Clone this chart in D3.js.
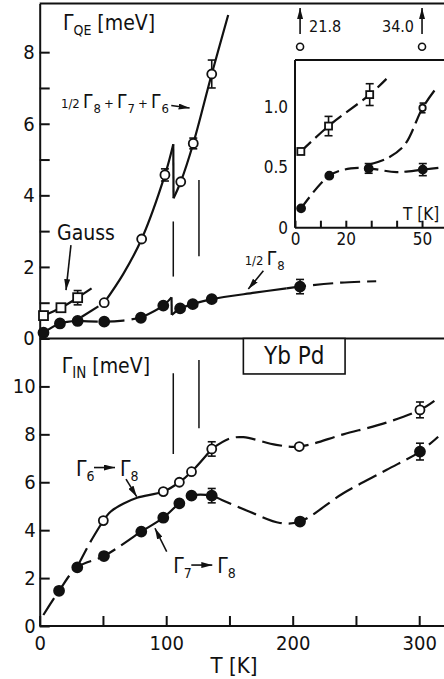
<!DOCTYPE html>
<html>
<head>
<meta charset="utf-8">
<script src="https://cdn.jsdelivr.net/npm/d3@7"></script>
<style>
  html, body { margin: 0; padding: 0; background: #fff; }
  svg { display: block; }
  text { font-family: "DejaVu Sans Condensed", "DejaVu Sans", sans-serif; font-stretch: condensed; fill: #111; }
</style>
</head>
<body>
<script>
// ---------- data: YbPd linewidths vs temperature ----------
// Quasielastic width Γ_QE [meV]; entries are [T (K), value, error]
const qeHalfG8 = [[3,0.16],[16,0.42],[30,0.49],[51,0.47],[80,0.58],[97.7,0.92],[111,0.84],[121,0.96],[136,1.10],[205.8,1.45,0.2]];
const qeSum    = [[51,1.0],[80.6,2.78],[99,4.57,0.17],[111.5,4.38],[121.4,5.45,0.15],[136,7.39,0.39]];
const qeGauss  = [[3,0.64],[16.8,0.86],[30,1.14,0.2]];

// Inelastic widths Γ_IN [meV]
const inG6G8 = [[50.3,4.40],[97.7,5.61],[110.4,6.0],[120,6.44],[136,7.39,0.3],[205.2,7.49],[300.6,9.02,0.33]];
const inG7G8 = [[15.3,1.47],[29.7,2.45],[50.8,2.92],[80.3,3.94],[97.7,4.52],[110.4,5.12],[120,5.44],[136,5.44,0.3],[205.8,4.36],[300.6,7.28,0.35]];

// Low-temperature detail (inset)
const insetGauss  = [[2.3,0.63],[13.2,0.84,0.08],[29.4,1.10,0.09]];
const insetHalfG8 = [[2.4,0.16],[13.5,0.43],[29,0.49,0.04],[50.3,0.48,0.05]];
const insetSum    = [[50.2,0.99,0.04]];
const insetOffScale = [[2,"21.8"],[50,"34.0"]];

// Guide-to-the-eye curves, split into pieces: [knots, dashed?]
const qeHalfG8Guide = [
  [[[3,0.16],[16,0.42],[30,0.49]], false],
  [[[30,0.49],[51,0.47],[66,0.5],[80,0.58]], true],
  [[[80,0.58],[97.7,0.92],[104.2,1.15]], false],
  [[[104.2,1.15],[104.4,0.66]], false],
  [[[104.4,0.66],[111,0.84],[121,0.96],[136,1.10],[170,1.28],[195,1.40]], false],
  [[[195,1.40],[205.8,1.45],[238,1.56],[266,1.6]], true]
];
const qeSumGuide = [
  [[[33,0.6],[51,1.0]], true],
  [[[51,1.0],[66,1.8],[80.6,2.78],[99,4.57],[105.6,5.43]], false],
  [[[105.6,5.43],[105.8,3.92]], false],
  [[[105.8,3.92],[111.5,4.38],[121.4,5.45],[136,7.39],[149,9.04]], false]
];
const qeGaussGuide = [
  [[[3,0.64],[16.8,0.86],[30,1.14]], false],
  [[[30,1.14],[41,1.4]], true]
];
const inG6G8Guide = [
  [[[30,2.5],[40,3.5],[50.3,4.4]], true],
  [[[50.3,4.4],[56,4.77],[66,5.1],[77,5.35],[97.7,5.61],[110.4,6.0],[120,6.44],[136,7.39]], false],
  [[[136,7.39],[150,7.82],[161,7.88],[187,7.56],[205.2,7.49],[240,8.0],[274,8.49],[300.6,9.02],[312,9.4]], true]
];
const inG7G8Guide = [
  [[[2.9,0.46],[15.3,1.47],[29.7,2.45],[50.8,2.92],[80.3,3.94],[97.7,4.52],[110.4,5.12],[120,5.44],[136,5.44],[144,5.26],[166,4.77],[190,4.3],[205.8,4.36],[240,5.54],[274,6.51],[300.6,7.28],[315,7.9]], true]
];
const insetGaussGuide  = [[[[2.3,0.63],[13.2,0.84],[29.4,1.10],[36,1.23]], true]];
const insetHalfG8Guide = [[[[2.4,0.16],[13.5,0.43],[22,0.49],[29,0.49],[40,0.46],[50.3,0.48],[59,0.5]], true]];
const insetSumGuide    = [[[[29,0.52],[36,0.57],[43,0.68],[50.2,0.99],[55.1,1.14]], true]];

// Transition markers (temperatures of the discontinuities)
const markerLinesTop = [[105.6,1.73,3.27],[125.9,2.30,4.43]];
const markerLinesBot = [[105.6,7.18,10.55],[125.9,8.25,11.1]];

// Tick values
const xTicks = [0,50,100,150,200,250,300];
const yTopTicks = [0,1,2,3,4,5,6,7,8];
const yBotTicks = [0,2,4,6,8,10];
const insetXTicks = [0,10,20,30,40,50];
const insetYTicks = [0,0.5,1.0];

// ---------- layout ----------
const W = 444, H = 679;
const svg = d3.select("body").append("svg").attr("width", W).attr("height", H);

const x    = d3.scaleLinear().domain([0, 320]).range([39.7, 444.5]);
const yTop = d3.scaleLinear().domain([0, 9.36]).range([338.5, 3.5]);
const yBot = d3.scaleLinear().domain([0, 12]).range([626, 338.5]);
const xIn  = d3.scaleLinear().domain([0, 59]).range([295, 444.9]);
const yIn  = d3.scaleLinear().domain([0, 1.386]).range([227.7, 60]);

const ink = "#111";
const defs = svg.append("defs");
defs.append("marker").attr("id", "ah")
  .attr("viewBox", "0 0 11 6").attr("refX", 11).attr("refY", 3)
  .attr("markerWidth", 11).attr("markerHeight", 6)
  .attr("markerUnits", "userSpaceOnUse").attr("orient", "auto")
  .append("path").attr("d", "M0,0 L11,3 L0,6 Z").attr("fill", ink);

// ---------- frame and axes ----------
const frame = svg.append("g").attr("stroke", ink).attr("stroke-width", 2).attr("fill", "none");
frame.append("line").attr("x1", x(0)).attr("x2", W).attr("y1", yTop(9.36)).attr("y2", yTop(9.36));
frame.append("line").attr("x1", x(0)).attr("x2", W).attr("y1", yTop(0)).attr("y2", yTop(0));

function styleAxis(g, size) {
  g.selectAll("path,line").attr("stroke", ink).attr("stroke-width", 2);
  g.selectAll("text").attr("font-size", size).attr("fill", ink)
    .style("font-family", "\"DejaVu Sans Condensed\", \"DejaVu Sans\", sans-serif");
}

const axTop = svg.append("g").attr("transform", `translate(${x(0)},0)`)
  .call(d3.axisLeft(yTop).tickValues(yTopTicks).tickSize(-10).tickSizeOuter(0).tickPadding(5)
    .tickFormat(d => d % 2 === 0 ? d : ""));
styleAxis(axTop, 20);

const axBot = svg.append("g").attr("transform", `translate(${x(0)},0)`)
  .call(d3.axisLeft(yBot).tickValues(yBotTicks).tickSize(-10).tickSizeOuter(0).tickPadding(4));
styleAxis(axBot, 20);

const axX = svg.append("g").attr("transform", `translate(0,${yBot(0)})`)
  .call(d3.axisBottom(x).tickValues(xTicks).tickSize(-10).tickSizeOuter(0).tickPadding(10)
    .tickFormat(d => d % 100 === 0 ? d : ""));
styleAxis(axX, 20);
axX.select(".domain").attr("d", `M${x(0)},0H${W}`);

// ---------- drawing helpers ----------
function drawGuide(g, pieces, xs, ys, dash) {
  const gen = d3.line().x(d => xs(d[0])).y(d => ys(d[1])).curve(d3.curveCatmullRom.alpha(0.5));
  pieces.forEach(([pts, dashed]) => {
    g.append("path").attr("d", gen(pts)).attr("fill", "none")
      .attr("stroke", ink).attr("stroke-width", 2.2)
      .attr("stroke-dasharray", dashed ? dash : null);
  });
}
function drawErr(g, data, xs, ys, cap) {
  data.filter(d => d[2]).forEach(d => {
    const cx = xs(d[0]), y1 = ys(d[1] - d[2]), y2 = ys(d[1] + d[2]);
    g.append("line").attr("x1", cx).attr("x2", cx).attr("y1", y1).attr("y2", y2);
    g.append("line").attr("x1", cx - cap).attr("x2", cx + cap).attr("y1", y1).attr("y2", y1);
    g.append("line").attr("x1", cx - cap).attr("x2", cx + cap).attr("y1", y2).attr("y2", y2);
  });
  g.attr("stroke", ink).attr("stroke-width", 1.6);
}
function drawCircles(g, data, xs, ys, r, filled) {
  g.selectAll("circle.pt").data(data).join("circle").attr("class", "pt")
    .attr("cx", d => xs(d[0])).attr("cy", d => ys(d[1])).attr("r", r)
    .attr("fill", filled ? ink : "#fff").attr("stroke", ink).attr("stroke-width", 1.8);
}
function drawSquares(g, data, xs, ys, s) {
  g.selectAll("rect.pt").data(data).join("rect").attr("class", "pt")
    .attr("x", d => xs(d[0]) - s / 2).attr("y", d => ys(d[1]) - s / 2)
    .attr("width", s).attr("height", s)
    .attr("fill", "#fff").attr("stroke", ink).attr("stroke-width", 1.8);
}
function arrow(g, x1, y1, x2, y2) {
  g.append("line").attr("x1", x1).attr("y1", y1).attr("x2", x2).attr("y2", y2)
    .attr("stroke", ink).attr("stroke-width", 1.6).attr("marker-end", "url(#ah)");
}
// Γ with subscript followed by optional trailing text
function gammaLabel(g, px, py, parts, size, subSize) {
  const t = g.append("text").attr("x", px).attr("y", py).attr("font-size", size);
  let shifted = false;
  parts.forEach(([txt, sub]) => {
    const s = t.append("tspan").text(txt);
    if (shifted) { s.attr("dy", -5); shifted = false; }
    if (sub) {
      t.append("tspan").attr("font-size", subSize).attr("dy", 5).text(sub);
      shifted = true;
    }
  });
  return t;
}
// a run of separately placed pieces: [text, dx offset, size, baseline shift]
function pieceLabel(g, px, py, pieces) {
  pieces.forEach(([txt, dx, size, dy]) => {
    g.append("text").attr("x", px + dx).attr("y", py + dy).attr("font-size", size).text(txt);
  });
}

const DASH = "20,7";

// ---------- top panel: Γ_QE ----------
const gTop = svg.append("g");
const vl = gTop.append("g").attr("stroke", ink).attr("stroke-width", 1.5);
markerLinesTop.forEach(d => vl.append("line").attr("x1", x(d[0])).attr("x2", x(d[0])).attr("y1", yTop(d[1])).attr("y2", yTop(d[2])));
drawGuide(gTop, qeHalfG8Guide, x, yTop, DASH);
drawGuide(gTop, qeSumGuide, x, yTop, DASH);
drawGuide(gTop, qeGaussGuide, x, yTop, DASH);
drawErr(gTop.append("g"), qeHalfG8, x, yTop, 4);
drawErr(gTop.append("g"), qeSum, x, yTop, 4);
drawErr(gTop.append("g"), qeGauss, x, yTop, 4);
drawSquares(gTop.append("g"), qeGauss, x, yTop, 9);
drawCircles(gTop.append("g"), qeSum, x, yTop, 4.5, false);
drawCircles(gTop.append("g"), qeHalfG8, x, yTop, 5, true);

gammaLabel(gTop, x(18.4), yTop(8.62), [["Γ", "QE"], [" [meV]"]], 21, 14);
pieceLabel(gTop, x(16.8), yTop(6.44), [
  ["1/2", 0, 13, 0], ["Γ", 22, 19, 0], ["8", 32.5, 13, 5],
  ["+", 43, 13, 0], ["Γ", 56, 19, 0], ["7", 66.5, 13, 5],
  ["+", 77, 13, 0], ["Γ", 90, 19, 0], ["6", 100.5, 13, 5]
]);
arrow(gTop, x(104), yTop(6.51), x(118.5), yTop(6.44));

gTop.append("text").attr("x", x(13.7)).attr("y", yTop(2.76)).attr("font-size", 21).text("Gauss");
arrow(gTop, x(24.7), yTop(2.61), x(20.8), yTop(1.35));

pieceLabel(gTop, x(162), yTop(2.06), [["1/2", 0, 13, 0], ["Γ", 22, 19, 0], ["8", 32.5, 13, 5]]);
arrow(gTop, x(176.8), yTop(1.89), x(164.9), yTop(1.38));

// ---------- inset: low temperature Γ_QE ----------
const ins = svg.append("g");
const insAxX = ins.append("g").attr("transform", `translate(0,${yIn(0)})`)
  .call(d3.axisBottom(xIn).tickValues(insetXTicks).tickSize(-7).tickSizeOuter(0).tickPadding(5)
    .tickFormat(d => (d === 0 || d === 20 || d === 50) ? d : ""));
styleAxis(insAxX, 17);
insAxX.select(".domain").attr("d", `M${xIn(0)},0H${W}`);
const insAxY = ins.append("g").attr("transform", `translate(${xIn(0)},0)`)
  .call(d3.axisLeft(yIn).tickValues(insetYTicks).tickSize(0).tickSizeOuter(0).tickPadding(7)
    .tickFormat(d => d === 0 ? "0" : d3.format(".1f")(d)));
styleAxis(insAxY, 17);
insAxY.select(".domain").attr("d", `M0,${yIn(0)}V${yIn(1.386)}`);
ins.append("line").attr("x1", xIn(0)).attr("x2", W).attr("y1", yIn(1.386)).attr("y2", yIn(1.386))
  .attr("stroke", ink).attr("stroke-width", 2);

drawGuide(ins, insetGaussGuide, xIn, yIn, "14,6");
drawGuide(ins, insetHalfG8Guide, xIn, yIn, "14,6");
drawGuide(ins, insetSumGuide, xIn, yIn, "16,6");
drawErr(ins.append("g"), insetGauss, xIn, yIn, 4);
drawErr(ins.append("g"), insetHalfG8, xIn, yIn, 4);
drawErr(ins.append("g"), insetSum, xIn, yIn, 3);
drawSquares(ins.append("g"), insetGauss, xIn, yIn, 7);
drawCircles(ins.append("g"), insetSum, xIn, yIn, 3.2, false);
drawCircles(ins.append("g"), insetHalfG8, xIn, yIn, 4, true);
ins.append("text").attr("x", xIn(42.5)).attr("y", yIn(0.06)).attr("font-size", 17).text("T [K]");

// values beyond the inset range
insetOffScale.forEach(([t, lab], i) => {
  const cx = xIn(t);
  ins.append("circle").attr("cx", cx).attr("cy", 46.7).attr("r", 3.5)
    .attr("fill", "#fff").attr("stroke", ink).attr("stroke-width", 1.6);
  arrow(ins, cx, 34, cx, 8);
  ins.append("text").attr("x", i === 0 ? cx + 9 : cx - 8).attr("y", 31.5)
    .attr("text-anchor", i === 0 ? "start" : "end").attr("font-size", 16).text(lab);
});

// ---------- bottom panel: Γ_IN ----------
const gBot = svg.append("g");
const vl2 = gBot.append("g").attr("stroke", ink).attr("stroke-width", 1.5);
markerLinesBot.forEach(d => vl2.append("line").attr("x1", x(d[0])).attr("x2", x(d[0])).attr("y1", yBot(d[1])).attr("y2", yBot(d[2])));
drawGuide(gBot, inG6G8Guide, x, yBot, DASH);
drawGuide(gBot, inG7G8Guide, x, yBot, DASH);
drawErr(gBot.append("g"), inG6G8, x, yBot, 4);
drawErr(gBot.append("g"), inG7G8, x, yBot, 4);
drawCircles(gBot.append("g"), inG6G8, x, yBot, 4.5, false);
drawCircles(gBot.append("g"), inG7G8, x, yBot, 5, true);

gammaLabel(gBot, x(17.4), yBot(10.56), [["Γ", "IN"], [" [meV]"]], 21, 15);

// compound label box
gBot.append("rect").attr("x", x(161)).attr("y", yBot(12)).attr("width", x(241.4) - x(161)).attr("height", yBot(10.52) - yBot(12))
  .attr("fill", "#fff").attr("stroke", ink).attr("stroke-width", 1.6);
gBot.append("text").attr("x", x(201.3)).attr("y", yBot(10.92)).attr("text-anchor", "middle").attr("font-size", 24).text("Yb Pd");

// transition labels
function transition(g, px, py, a, b) {
  const t1 = g.append("text").attr("x", px).attr("y", py).attr("font-size", 21);
  t1.append("tspan").text("Γ");
  t1.append("tspan").attr("font-size", 14).attr("dy", 5).text(a);
  arrow(g, px + 18, py - 8, px + 39, py - 8);
  const t2 = g.append("text").attr("x", px + 44).attr("y", py).attr("font-size", 21);
  t2.append("tspan").text("Γ");
  t2.append("tspan").attr("font-size", 14).attr("dy", 5).text(b);
}
transition(gBot, x(28.7), yBot(6.28), "6", "8");
arrow(gBot, x(68.2), yBot(6.13), x(76.7), yBot(5.40));
transition(gBot, x(105.6), yBot(2.21), "7", "8");
arrow(gBot, x(100.4), yBot(3.10), x(91.1), yBot(4.08));

// x-axis title
svg.append("text").attr("x", x(153.6)).attr("y", 673).attr("text-anchor", "middle").attr("font-size", 22).text("T [K]");
</script>
</body>
</html>
